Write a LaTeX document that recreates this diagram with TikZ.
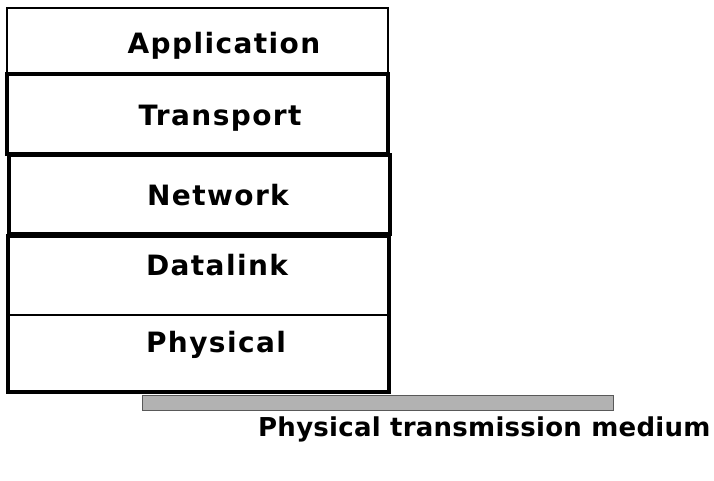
\documentclass[tikz,border=0pt]{standalone}
\usepackage{fontspec}
\setmainfont{DejaVu Sans}
\newfontfamily\layerfont[LetterSpace=5]{DejaVu Sans}
\newfontfamily\mediumfont[LetterSpace=1]{DejaVu Sans}
\begin{document}
\begin{tikzpicture}[x=1pt,y=-1pt,
  layertext/.style={font=\layerfont\bfseries\fontsize{28}{31}\selectfont, anchor=base, inner sep=0pt},
  thinline/.style={line width=1.6pt},
  thickline/.style={line width=3.2pt}]
\useasboundingbox (0,0) rectangle (714,480);
% layer boxes
\draw[thinline] (7,8) rectangle (388,74);
\draw[thickline] (7,74) rectangle (388,154);
\draw[thickline] (9,155) rectangle (390,234);
\draw[thickline] (8,315) -- (8,236) -- (389,236) -- (389,315);
\draw[thickline] (8,313) -- (8,392) -- (389,392) -- (389,313);
\draw[line width=2.2pt] (8,315) -- (389,315);
% medium bar
\draw[fill=black!30, draw=black!65, line width=1pt] (142,395) rectangle (613,410);
% labels
\node[layertext] (app) at (224,53) {Application};
\node[layertext] (tra) at (220,125) {Transport};
\node[layertext] (net) at (218,205) {Network};
\node[layertext] (dat) at (217,275) {Datalink};
\node[layertext] (phy) at (216,352) {Physical};
\node[font=\mediumfont\bfseries\fontsize{26}{29}\selectfont, anchor=base west, inner sep=0pt] (med) at (258,436) {Physical transmission medium};
\end{tikzpicture}
\end{document}
